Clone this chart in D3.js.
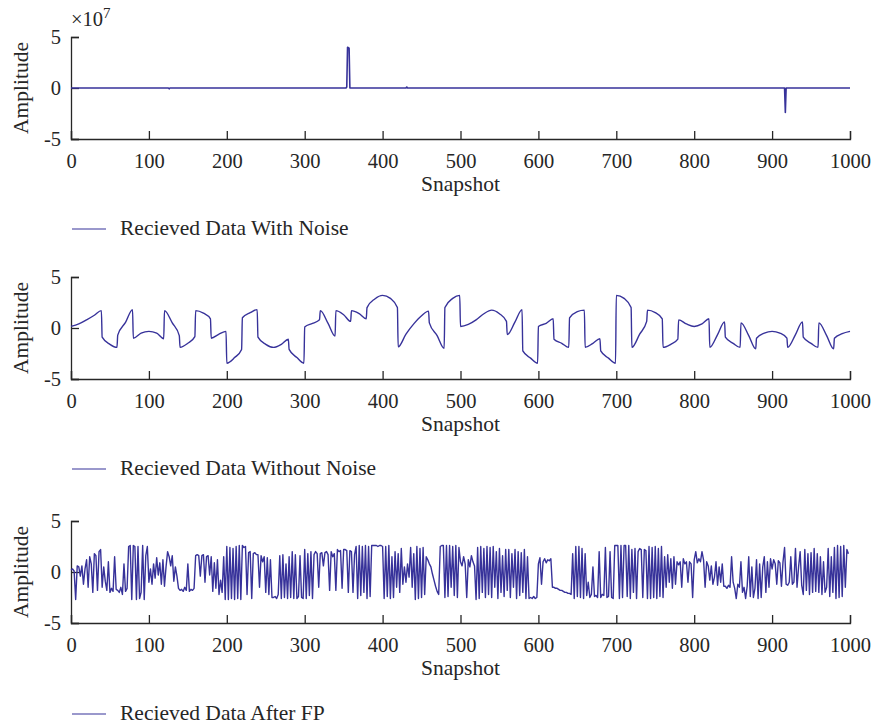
<!DOCTYPE html>
<html><head><meta charset="utf-8">
<script src="https://cdn.jsdelivr.net/npm/d3@7"></script>
<style>
body{margin:0;background:#fff}
text{font-family:"Liberation Serif","DejaVu Serif",serif;fill:#262626}
</style></head>
<body><svg id="c" width="885" height="727"></svg>
<script>
// ---------- data ----------
const xTicks = [0,100,200,300,400,500,600,700,800,900,1000];
const yTicks = [-5,0,5];
const legendLabels = ["Recieved Data With Noise","Recieved Data Without Noise","Recieved Data After FP"];
const xLabel = "Snapshot";
const yLabel = "Amplitude";

// Panel 1: received data with noise (amplitude in units of 1e7)
const noisyX = [0,125,126,127,353,354,355,357,358,430,431,432,916,917,918,1000];
const noisyY = [0,0,-0.08,0,0,0.1,4.0,3.9,0,0,0.1,0,0,-2.4,0,0];

// Panel 2: received data without noise (knots)
const cleanX = [0,10,20,30,39, 40,50,59, 60,70,79, 80,90,100,110,119, 120,130,139, 140,150,159,
  160,170,179, 180,190,199, 200,210,219, 220,230,239, 240,250,260,270,279, 280,290,299,
  300,310,319, 320,330,339, 340,350,359, 360,370,379, 380,390,400,410,419, 420,430,440,450,459,
  460,470,479, 480,490,499, 500,510,520,530,540,550,559, 560,570,579, 580,590,599,
  600,610,619, 620,630,639, 640,650,659, 660,670,679, 680,690,699, 700,710,719,
  720,730,739, 740,750,759, 760,770,779, 780,790,800,810,819, 820,830,839, 840,850,859,
  860,870,879, 880,890,900,910,919, 920,930,939, 940,950,959, 960,970,979, 980,990,1000];
const cleanY = [0.16,0.4,0.8,1.25,1.7, -0.9,-1.6,-1.9, -0.7,0.55,1.8, -1.0,-0.5,-0.33,-0.5,-1.05, 1.7,0.5,-0.75, -1.9,-1.5,-0.85,
  1.7,1.45,0.9, -1.0,-0.6,-0.33, -3.45,-2.9,-2.1, 1.0,1.5,1.8, -0.9,-1.6,-1.9,-1.6,-1.1, -2.1,-2.9,-3.45,
  0.1,0.45,0.8, 1.7,0.45,-0.8, 1.7,1.3,0.65, 1.7,1.4,0.9, 2.0,2.85,3.2,2.9,2.0, -1.85,-0.6,0.4,1.2,1.65,
  0.5,-0.75,-2.0, 2.0,2.9,3.2, 0.15,0.35,0.8,1.4,1.75,1.4,0.65, -0.65,0.6,1.8, -2.25,-2.95,-3.45,
  0.15,0.45,0.9, -1.1,-1.5,-1.9, 1.0,1.6,1.75, -1.9,-1.5,-1.05, -2.25,-2.95,-3.45, 3.2,2.9,2.0,
  -1.9,-0.6,0.65, 1.75,1.5,0.9, -1.9,-1.6,-1.1, 0.8,0.4,0.15,0.4,0.9, -1.9,-0.65,0.6, -0.9,-1.5,-1.9,
  0.5,-0.75,-2.05, -1.0,-0.5,-0.33,-0.5,-1.0, -1.9,-0.65,0.6, -0.9,-1.5,-1.9, 0.5,-0.75,-2.05, -1.0,-0.55,-0.33];

// Panel 3: received data after FP, one estimate every 2 snapshots (0,2,4,...,998)
const fpStep = 2;
const fpY = [
  0.2,0.3,0.1,-2.7,0.6,0.5,-0.4,0.6,-1.2,0.3,
  1.2,-1.5,1.5,0.8,-2.0,1.8,1.6,-1.8,2.0,2.2,
  -1.5,0.5,-0.9,-1.8,1.0,-2.0,-1.6,-1.9,1.5,-1.7,
  -1.8,-2.0,-1.5,-2.2,0.8,-1.9,-1.6,2.5,2.6,-2.7,
  2.6,2.5,-2.7,2.5,-2.6,-2.0,2.6,-2.7,1.6,2.5,
  -1.0,0.3,-1.2,0.8,-0.6,1.4,-0.3,0.9,-1.2,1.2,
  -1.4,0.5,2.0,1.5,0.6,1.6,-0.9,0.5,-0.4,-1.6,
  -1.8,-1.7,-1.9,-1.5,-1.8,0.8,-1.9,-1.7,-1.8,-1.6,
  1.6,1.7,1.6,-0.4,1.6,1.7,-1.0,1.5,1.6,-0.3,
  1.5,-1.9,0.9,-1.6,1.2,-2.2,-0.8,-2.0,1.5,-2.7,
  2.5,-2.7,2.4,-2.6,2.3,-2.7,2.5,-2.6,2.6,-2.7,
  2.6,2.4,2.5,-2.2,1.9,2.0,-2.6,1.8,1.9,1.7,
  1.7,-1.5,1.6,1.0,1.5,-2.0,1.4,-2.2,1.2,-2.5,
  -2.5,-2.4,-2.6,-2.2,1.6,-2.6,1.7,-2.5,0.8,-2.6,
  1.5,-2.5,2.0,-2.6,1.7,-2.6,-2.4,1.6,-2.5,-2.6,
  2.2,-2.6,1.8,-2.3,2.0,-2.6,1.7,2.0,1.8,-1.5,
  1.8,1.9,0.6,1.9,2.0,1.7,-1.8,2.0,1.5,1.8,
  -1.8,2.2,2.0,2.1,-1.6,2.2,2.2,2.1,-2.0,2.1,
  2.0,-2.0,1.7,2.5,-2.6,2.6,-2.3,2.5,-2.0,2.6,
  -2.6,2.5,-2.4,2.6,2.6,2.6,2.6,2.5,2.6,2.6,
  2.5,-2.6,2.5,-2.4,2.6,-2.6,1.5,-2.5,2.0,-1.5,
  1.8,-2.0,2.3,-1.2,0.5,-1.0,0.8,-0.5,2.4,-1.5,
  1.8,-2.7,2.5,-2.6,2.3,-2.5,2.4,-2.2,1.5,1.2,
  0.8,0.5,-0.2,-0.8,-1.4,-1.9,-2.2,2.5,2.6,2.6,
  -2.5,2.6,-2.4,2.6,-1.5,2.5,-2.3,2.6,-2.5,2.4,
  1.0,0.6,1.5,0.8,-2.5,1.2,0.5,1.6,1.0,0.6,
  -2.7,2.4,-2.6,2.5,-2.0,2.3,-2.5,2.5,-2.2,2.4,
  -2.5,2.5,-1.5,2.0,-2.6,2.3,-2.0,1.6,-2.4,2.2,
  -1.8,2.2,-2.5,1.8,-1.5,2.2,-2.6,2.0,-2.3,1.9,
  -2.0,2.2,-2.6,1.5,-2.6,-2.5,-2.6,-2.4,-2.6,-2.5,
  0.8,1.4,-1.2,1.0,1.3,0.9,1.2,1.1,1.3,-1.5,
  -1.5,-1.6,-1.6,-1.7,-1.8,-1.8,-1.9,-2.0,-2.0,-2.1,
  -2.1,-2.2,1.8,-2.6,2.5,-2.4,2.5,-2.5,2.3,-2.6,
  1.8,-2.3,-1.0,-2.5,-2.2,0.5,-2.4,-2.3,-2.5,2.0,
  -2.5,-2.2,-2.3,2.4,-2.5,-2.4,2.0,-2.5,-2.6,2.6,
  2.6,2.6,-2.6,2.6,-2.5,2.6,2.6,-2.4,2.6,-2.6,
  2.2,-2.0,2.3,-2.6,2.0,2.3,2.2,-2.5,2.2,2.1,
  -2.6,2.5,-2.6,2.4,-2.5,2.5,-2.6,2.3,-2.4,2.5,
  -2.5,1.5,-1.5,1.7,-1.0,1.3,-1.6,1.5,-1.2,1.0,
  0.7,1.0,-1.5,1.3,0.8,1.0,-1.0,1.0,0.8,-2.5,
  1.2,2.0,0.9,1.3,1.0,2.0,1.2,-1.5,1.0,0.6,
  -0.8,0.6,-1.2,-0.5,1.0,-1.3,0.5,-1.0,0.8,-1.4,
  -1.4,-1.6,-1.3,-1.5,1.5,-1.0,-1.6,-2.6,-1.2,-1.5,
  1.0,-2.0,-1.5,-2.6,-1.4,1.5,-2.4,0.5,-2.5,-1.6,
  1.2,-2.6,0.8,-2.5,0.5,1.5,-2.0,1.0,-1.5,1.3,
  0.3,1.2,0.8,-1.2,1.1,0.9,-1.4,1.0,2.4,-1.2,
  -1.3,-1.0,1.5,-1.2,-1.0,2.3,-1.5,0.5,2.0,-1.3,
  -2.2,2.2,-1.8,1.8,-2.2,1.9,-2.0,2.3,-1.9,1.8,
  -2.0,1.5,-2.2,1.0,-2.0,-1.5,2.3,-2.4,1.5,-2.0,
  2.4,-2.6,2.6,-2.5,2.5,-2.4,2.6,-1.5,2.2,1.8
];

// ---------- drawing ----------
const svg = d3.select("#c");
const color = "#37329a";
const axisColor = "#262626";
const left = 71, right = 850, plotH = 102;
const panelTops = [37, 277, 521];
const legendYs = [229, 469, 714];

const x = d3.scaleLinear().domain([0, 1000]).range([left, right]);

function drawPanel(i, xs, ys, yDomain, showExp) {
  const top = panelTops[i];
  const y = d3.scaleLinear().domain(yDomain).range([top + plotH, top]);
  const g = svg.append("g");
  const tickVals = yTicks.map(t => t * (yDomain[1] / 5));

  // x axis
  const xa = g.append("g").attr("transform", `translate(0,${top + plotH})`)
    .call(d3.axisBottom(x).tickValues(xTicks).tickSize(-8).tickPadding(14).tickFormat(d3.format("d")));
  xa.select(".domain").attr("stroke", axisColor).attr("stroke-width", 1.3);
  xa.selectAll(".tick line").attr("stroke", axisColor).attr("stroke-width", 1.3);
  xa.selectAll("text").attr("font-size", 20.5).attr("fill", axisColor)
    .style("font-family", '"Liberation Serif",serif');

  // y axis
  const ya = g.append("g").attr("transform", `translate(${left},0)`)
    .call(d3.axisLeft(y).tickValues(tickVals).tickSize(-8).tickPadding(10)
      .tickFormat((d, k) => String(yTicks[k])));
  ya.select(".domain").attr("stroke", axisColor).attr("stroke-width", 1.3);
  ya.selectAll(".tick line").attr("stroke", axisColor).attr("stroke-width", 1.3);
  ya.selectAll("text").attr("font-size", 20.5).attr("fill", axisColor)
    .style("font-family", '"Liberation Serif",serif');

  // data line
  const line = d3.line().x((d) => x(d[0])).y((d) => y(d[1]))
    .curve(i === 1 ? d3.curveMonotoneX : d3.curveLinear);
  g.append("path").datum(xs.map((v, k) => [v, ys[k]]))
    .attr("d", line).attr("fill", "none").attr("stroke", color)
    .attr("stroke-width", i === 0 ? 1.6 : (i === 1 ? 1.4 : 1.4)).attr("stroke-linejoin", "round");

  // axis titles
  g.append("text").attr("x", (left + right) / 2).attr("y", top + plotH + 52)
    .attr("text-anchor", "middle").attr("font-size", 21.5).text(xLabel);
  g.append("text").attr("transform", `translate(28,${top + plotH / 2}) rotate(-90)`)
    .attr("text-anchor", "middle").attr("font-size", 21.5).text(yLabel);

  if (showExp) {
    const t = g.append("text").attr("x", left).attr("y", top - 11).attr("font-size", 20.5);
    t.append("tspan").text("\u00d710");
    t.append("tspan").attr("dy", -8).attr("font-size", 15).text("7");
  }

  // legend
  const ly = legendYs[i];
  g.append("line").attr("x1", 72).attr("x2", 106).attr("y1", ly).attr("y2", ly)
    .attr("stroke", color).attr("stroke-width", 1.2);
  g.append("text").attr("x", 120).attr("y", ly + 6).attr("font-size", 21.5).text(legendLabels[i]);
}

drawPanel(0, noisyX, noisyY.map(v => v * 1e7), [-5e7, 5e7], true);
drawPanel(1, cleanX, cleanY, [-5, 5], false);
drawPanel(2, fpY.map((_, k) => k * fpStep), fpY, [-5, 5], false);
</script></body></html>
